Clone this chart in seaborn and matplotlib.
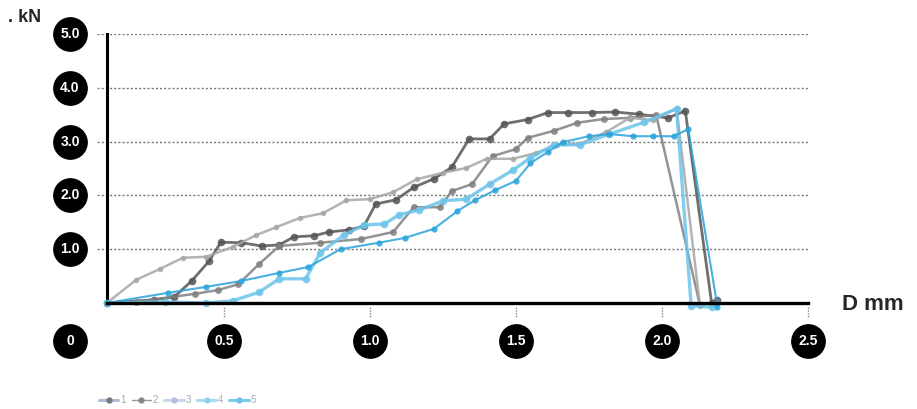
import pandas as pd
import seaborn as sns
import matplotlib.pyplot as plt
import matplotlib.transforms as mtransforms
from matplotlib.lines import Line2D

sns.set_style("white")
plt.rcParams["font.family"] = ["Liberation Sans", "DejaVu Sans"]

# Load-displacement curves (D in mm, load in kN)
series = ["1", "2", "3", "4", "5"]

x1 = [0.10, 0.26, 0.33, 0.39, 0.45, 0.49, 0.56, 0.63, 0.69, 0.74, 0.81, 0.86, 0.93, 0.98,
      1.02, 1.09, 1.15, 1.22, 1.28, 1.34, 1.41, 1.46, 1.54, 1.61, 1.68, 1.76, 1.84, 1.92,
      2.02, 2.08, 2.17, 2.19]
y1 = [0.00, 0.06, 0.11, 0.41, 0.78, 1.13, 1.12, 1.06, 1.08, 1.23, 1.25, 1.32, 1.36, 1.43,
      1.84, 1.92, 2.15, 2.31, 2.52, 3.05, 3.05, 3.33, 3.41, 3.54, 3.54, 3.54, 3.55, 3.51,
      3.44, 3.57, 0.00, 0.06]

x2 = [0.10, 0.20, 0.40, 0.48, 0.55, 0.62, 0.69, 0.83, 0.97, 1.08, 1.15, 1.24, 1.28, 1.35,
      1.42, 1.50, 1.54, 1.63, 1.71, 1.80, 1.89, 1.98, 2.13, 2.19]
y2 = [0.00, 0.02, 0.17, 0.24, 0.35, 0.72, 1.06, 1.12, 1.19, 1.32, 1.78, 1.78, 2.08, 2.21,
      2.73, 2.86, 3.07, 3.20, 3.35, 3.42, 3.44, 3.50, -0.04, 0.02]

x3 = [0.10, 0.20, 0.28, 0.36, 0.44, 0.53, 0.61, 0.68, 0.76, 0.84, 0.92, 1.00, 1.08, 1.16,
      1.25, 1.33, 1.40, 1.49, 1.57, 1.64, 1.72, 1.81, 1.89, 1.97, 2.05, 2.13]
y3 = [0.00, 0.43, 0.63, 0.84, 0.86, 1.04, 1.26, 1.41, 1.58, 1.67, 1.91, 1.93, 2.06, 2.30,
      2.42, 2.51, 2.68, 2.68, 2.79, 2.94, 2.96, 3.18, 3.44, 3.40, 3.62, -0.04]

x4 = [0.10, 0.30, 0.44, 0.53, 0.62, 0.69, 0.78, 0.83, 0.91, 0.98, 1.05, 1.10, 1.17, 1.25,
      1.33, 1.41, 1.49, 1.55, 1.63, 1.72, 1.82, 1.94, 2.05, 2.10, 2.17]
y4 = [0.00, 0.02, 0.00, 0.04, 0.20, 0.45, 0.45, 0.93, 1.26, 1.45, 1.47, 1.64, 1.73, 1.90,
      1.93, 2.21, 2.47, 2.70, 2.94, 2.94, 3.14, 3.36, 3.61, -0.05, -0.08]

x5 = [0.10, 0.31, 0.44, 0.56, 0.69, 0.79, 0.90, 1.03, 1.12, 1.22, 1.30, 1.36, 1.43, 1.50,
      1.55, 1.61, 1.66, 1.75, 1.82, 1.90, 1.97, 2.04, 2.09, 2.19]
y5 = [0.00, 0.19, 0.30, 0.41, 0.56, 0.67, 1.00, 1.12, 1.21, 1.38, 1.71, 1.91, 2.10, 2.27,
      2.60, 2.81, 2.99, 3.10, 3.14, 3.10, 3.10, 3.10, 3.23, -0.07]

xticks = [0.5, 1.0, 1.5, 2.0, 2.5]
xtick_labels = ["0.5", "1.0", "1.5", "2.0", "2.5"]
yticks = [1.0, 2.0, 3.0, 4.0, 5.0]
ytick_labels = ["1.0", "2.0", "3.0", "4.0", "5.0"]

rows = []
for name, xs, ys in zip(series, [x1, x2, x3, x4, x5], [y1, y2, y3, y4, y5]):
    for xv, yv in zip(xs, ys):
        rows.append({"series": name, "D": xv, "kN": yv})
df = pd.DataFrame(rows)

colors = ["#555555", "#808080", "#a6a6a6", "#6cc4ea", "#29a3db"]
widths = [2.0, 1.8, 1.8, 2.4, 1.5]
msizes = [5.5, 5, 4, 5.5, 4.5]

fig = plt.figure(figsize=(9.17, 4.09), dpi=100)
ax = fig.add_axes([97 / 917, 106 / 409, 711 / 917, 269 / 409])

for name, c, lw, ms in zip(series, colors, widths, msizes):
    sub = df[df["series"] == name]
    sns.lineplot(data=sub, x="D", y="kN", color=c, lw=lw, marker="o", markersize=ms,
                 markeredgewidth=0, sort=False, estimator=None, alpha=0.85,
                 clip_on=False, ax=ax, legend=False)

ax.set_xlim(0.066, 2.5)
ax.set_ylim(0, 5)
ax.set_xlabel("")
ax.set_ylabel("")
ax.set_xticks([])
ax.set_yticks(yticks)
ax.tick_params(length=0, labelleft=False, labelbottom=False)
ax.grid(axis="y", color="#777777", linestyle=(0, (1.5, 1.5)), linewidth=1)

for s in ["top", "right"]:
    ax.spines[s].set_visible(False)
ax.spines["left"].set_position(("data", 0.1))
ax.spines["left"].set_linewidth(2.2)
ax.spines["left"].set_color("black")
ax.spines["bottom"].set_bounds(0.1, 2.5)
ax.spines["bottom"].set_linewidth(2.4)
ax.spines["bottom"].set_color("black")
ax.spines["left"].set_zorder(1)

# dotted tick marks under the x axis
ax.vlines(xticks, -0.08, -0.28, colors="#888888", linestyles=(0, (1, 1)), lw=1, clip_on=False)

# round black tick labels
ytrans = mtransforms.blended_transform_factory(ax.transAxes, ax.transData)
xtrans = mtransforms.blended_transform_factory(ax.transData, ax.transAxes)
for v, lab in zip(yticks, ytick_labels):
    ax.plot(-0.038, v, "o", ms=24, color="black", transform=ytrans, clip_on=False)
    ax.text(-0.038, v, lab, transform=ytrans, ha="center", va="center",
            color="white", fontsize=10, fontweight="bold")
for v, lab in zip(xticks, xtick_labels):
    ax.plot(v, -0.141, "o", ms=24, color="black", transform=xtrans, clip_on=False)
    ax.text(v, -0.141, lab, transform=xtrans, ha="center", va="center",
            color="white", fontsize=10, fontweight="bold")
ax.plot(-0.038, -0.141, "o", ms=24, color="black", transform=ax.transAxes, clip_on=False)
ax.text(-0.038, -0.141, "0", transform=ax.transAxes, ha="center", va="center",
        color="white", fontsize=10, fontweight="bold")

fig.text(8 / 917, 1 - 17 / 409, ". kN", ha="left", va="center", fontsize=13, fontweight="bold")
fig.text(842 / 917, 1 - 305 / 409, "D mm", ha="left", va="center", fontsize=16, fontweight="bold")

# faded legend at the bottom
leg_lines = ["#aebcd8", "#9a9a9a", "#cbd5ea", "#a8dcf3", "#7ccaee"]
leg_marks = ["#777777", "#888888", "#b3bfd9", "#8fd0ef", "#6bbfe8"]
leg_lw = [2.2, 1.0, 2.2, 2.2, 2.2]
handles = [Line2D([], [], color=lc, lw=lw, marker="o", ms=3.5, mfc=mc, mec=mc)
           for lc, mc, lw in zip(leg_lines, leg_marks, leg_lw)]
fig.legend(handles, series, loc="center left", bbox_to_anchor=(99 / 917, 1 - 400 / 409),
           ncol=5, frameon=False, fontsize=7, handlelength=2.0, handletextpad=0.2,
           columnspacing=0.6, labelcolor="#aaaaaa", borderpad=0, borderaxespad=0)

fig.savefig("out.png", dpi=100)
